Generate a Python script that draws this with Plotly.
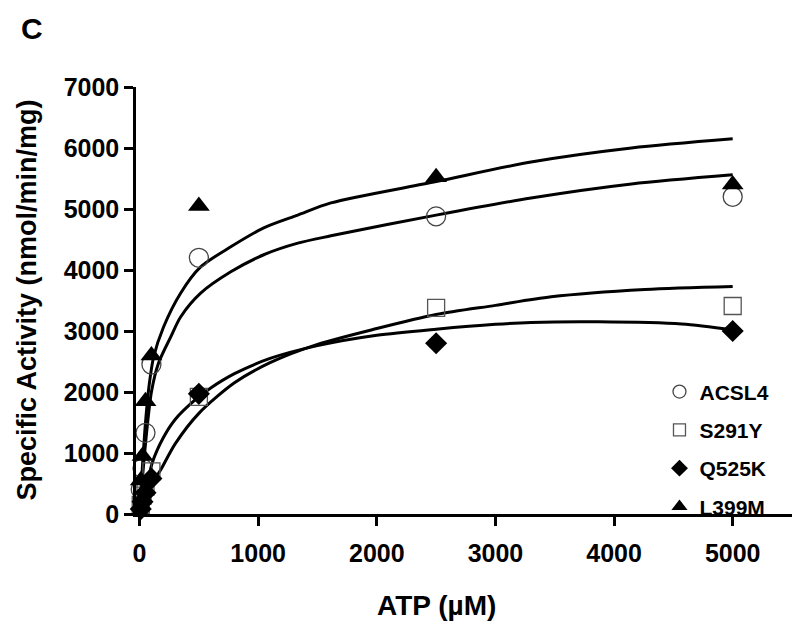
import plotly.graph_objects as go

# ---- measured data points ----
atp = [10, 25, 50, 100, 500, 2500, 5000]
acsl4 = [400, 750, 1330, 2450, 4200, 4880, 5200]
s291y = [150, 300, 450, 700, 1920, 3380, 3410]
q525k = [80, 200, 350, 580, 1970, 2800, 3000]
l399m = [550, 950, 1850, 2600, 5050, 5520, 5400]

# ---- fitted curves ----
fit_l399m_x = [0, 25, 50, 80, 118, 203, 346, 515, 769, 1047, 1334, 1613, 2500, 3300, 4147, 5000]
fit_l399m_y = [0, 800, 1500, 2100, 2570, 3070, 3620, 4050, 4380, 4690, 4900, 5100, 5450, 5770, 6000, 6150]
fit_acsl4_x = [0, 25, 50, 100, 160, 262, 346, 515, 769, 1047, 1334, 1613, 2500, 3300, 4147, 5000]
fit_acsl4_y = [0, 600, 1150, 2000, 2475, 2900, 3230, 3620, 3970, 4250, 4440, 4560, 4900, 5180, 5410, 5560]
fit_s291y_x = [0, 50, 100, 177, 300, 500, 800, 1100, 1500, 2000, 2500, 3000, 3470, 4260, 5000]
fit_s291y_y = [0, 250, 480, 720, 1150, 1650, 2150, 2480, 2780, 3040, 3270, 3420, 3560, 3680, 3730]
fit_q525k_x = [0, 50, 107, 200, 300, 456, 600, 800, 1100, 1500, 2000, 2500, 3000, 3300, 3865, 4570, 5000]
fit_q525k_y = [0, 350, 840, 1250, 1550, 1850, 2065, 2300, 2550, 2760, 2930, 3030, 3110, 3140, 3150, 3115, 3020]

x_ticks = [0, 1000, 2000, 3000, 4000, 5000]
y_ticks = [0, 1000, 2000, 3000, 4000, 5000, 6000, 7000]

FONT = "Liberation Sans, Arial, sans-serif"

fig = go.Figure()

line_style = dict(color="black", width=3, shape="spline", smoothing=0.8)
for fx, fy in [(fit_l399m_x, fit_l399m_y), (fit_acsl4_x, fit_acsl4_y),
               (fit_s291y_x, fit_s291y_y), (fit_q525k_x, fit_q525k_y)]:
    fig.add_trace(go.Scatter(x=fx, y=fy, mode="lines", line=line_style,
                             showlegend=False, hoverinfo="skip", cliponaxis=False))

series = [
    ("ACSL4", acsl4, dict(symbol="circle-open", size=19, color="#444", line=dict(width=1.3, color="#444")), 13),
    ("S291Y", s291y, dict(symbol="square-open", size=17, color="#555", line=dict(width=1.3, color="#555")), 12),
    ("Q525K", q525k, dict(symbol="diamond", size=17, color="black"), 13),
    ("L399M", l399m, dict(symbol="triangle-up", size=19, color="black"), 14),
]
for i, (name, vals, mk, legsize) in enumerate(series):
    fig.add_trace(go.Scatter(x=atp, y=vals, mode="markers", name=name, marker=mk,
                             showlegend=False, cliponaxis=False))
    lmk = dict(mk)
    lmk["size"] = legsize
    fig.add_trace(go.Scatter(x=[None], y=[None], mode="markers", name=name, marker=lmk,
                             legendgroup="g%d" % i, showlegend=True))

fig.update_layout(
    width=784, height=619,
    margin=dict(l=128, r=0, t=79, b=113),
    paper_bgcolor="white", plot_bgcolor="white",
    font=dict(family=FONT, color="black"),
    showlegend=True,
    legend=dict(x=0.798, y=0.334, xanchor="left", yanchor="top",
                font=dict(size=21, family=FONT, weight="bold"),
                tracegroupgap=8, bgcolor="rgba(0,0,0,0)", itemsizing="trace"),
    xaxis=dict(range=[-30, 5500], tickvals=x_ticks, ticktext=[str(v) for v in x_ticks],
               showgrid=False, zeroline=False, showline=True, linecolor="black", linewidth=2.5,
               ticks="outside", ticklen=9, tickwidth=2.5, tickcolor="black",
               tickfont=dict(size=25, family=FONT, weight="bold"), ticklabelstandoff=6),
    yaxis=dict(range=[0, 7000], tickvals=y_ticks, ticktext=[str(v) for v in y_ticks],
               showgrid=False, zeroline=False, showline=True, linecolor="black", linewidth=2.5,
               ticks="outside", ticklen=9, tickwidth=2.5, tickcolor="black",
               tickfont=dict(size=25, family=FONT, weight="bold"), ticklabelstandoff=0),
)

fig.add_annotation(text="Specific Activity (nmol/min/mg)", textangle=-90,
                   xref="paper", yref="paper", x=(26 - 136) / 656, y=0.5,
                   xanchor="center", yanchor="middle", showarrow=False,
                   font=dict(size=27, family=FONT, weight="bold"))
fig.add_annotation(text="ATP (\u00b5M)", xref="x", yref="paper", x=2500,
                   y=-(605 - 514) / 427, xanchor="center", yanchor="middle", showarrow=False,
                   font=dict(size=28, family=FONT, weight="bold"))
fig.add_annotation(text="C", xref="paper", yref="paper", x=(32 - 136) / 656,
                   y=(514 - 28) / 427, xanchor="center", yanchor="middle", showarrow=False,
                   font=dict(size=30, family=FONT, weight="bold"))

fig.write_html("out.html")
